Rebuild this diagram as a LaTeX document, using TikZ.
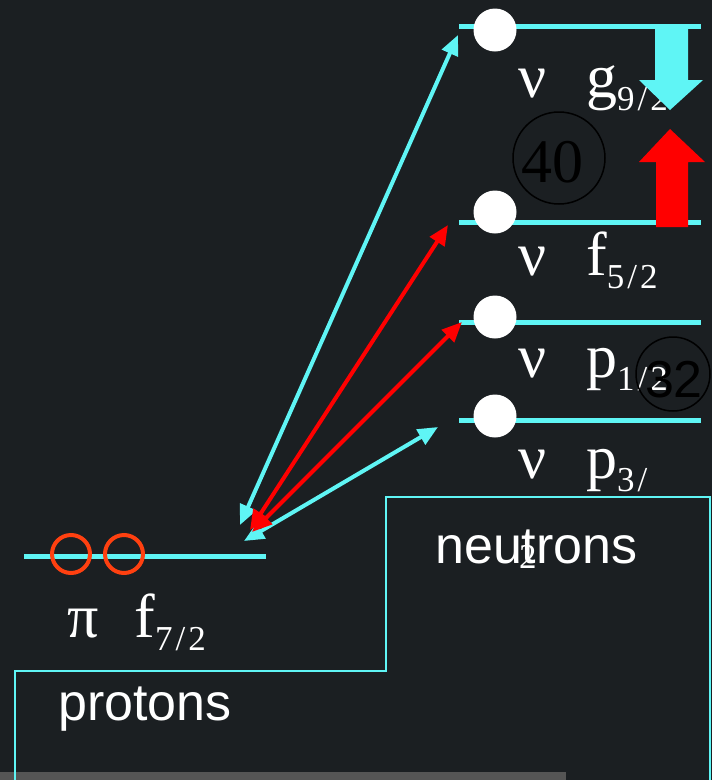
\documentclass[tikz,border=0pt]{standalone}
\usepackage{fontspec}
\setmainfont{Liberation Serif}
\newfontfamily\arialf{Liberation Sans}
\usetikzlibrary{arrows.meta}
\definecolor{bgc}{RGB}{27,31,34}
\definecolor{cyanl}{RGB}{95,245,245}
\definecolor{redl}{RGB}{255,0,0}
\definecolor{orangel}{RGB}{255,64,16}
\definecolor{greybar}{RGB}{85,85,85}
\newcommand\sublbl[2]{#1\raisebox{-13pt}{\fontsize{35}{35}\selectfont #2}}
\newcommand\slsh{\kern3pt/\kern3pt}
\newcommand\bigserif{\fontsize{62}{62}\selectfont}
\tikzset{
  level/.style={draw=cyanl, line width=5pt},
  occ/.style={circle, fill=white, minimum size=43pt, inner sep=0pt},
  hole/.style={circle, draw=orangel, line width=4pt, minimum size=38pt, inner sep=0pt},
  lbl/.style={anchor=base west, inner sep=0pt, text=white, font=\bigserif},
  sanslbl/.style={anchor=base west, inner sep=0pt, text=white, font=\arialf\fontsize{52}{52}\selectfont},
  cyanarr/.style={draw=cyanl, line width=4pt, {Triangle[length=20pt,width=17pt]}-{Triangle[length=20pt,width=17pt]}},
  redarr/.style={draw=redl, line width=4pt, {Triangle[length=20pt,width=17pt]}-{Triangle[length=20pt,width=17pt]}},
  boxline/.style={draw=cyanl, line width=2pt},
  magic/.style={circle, draw=black, line width=1.5pt, inner sep=0pt},
}
\begin{document}
\begin{tikzpicture}[x=1pt,y=-1pt]
\path[use as bounding box, fill=bgc] (0,0) rectangle (712,780);
\fill[greybar] (0,772) rectangle (566,780);
% outline of boxes
\draw[boxline] (15,782) -- (15,671) -- (386,671) -- (386,497) -- (710,497) -- (710,782);
% neutron levels
\draw[level] (459,26) coordinate (g0) -- (701,26) coordinate (g1);
\draw[level] (459,222) coordinate (f0) -- (701,222) coordinate (f1);
\draw[level] (459,322) coordinate (p0) -- (701,322) coordinate (p1);
\draw[level] (459,420) coordinate (q0) -- (701,420) coordinate (q1);
% proton level
\draw[level] (24,556) coordinate (pr0) -- (266,556) coordinate (pr1);
% occupied neutrons
\node[occ] (ng) at (495,30) {};
\node[occ] (nf) at (495,212) {};
\node[occ] (np) at (495,317) {};
\node[occ] (nq) at (495,416) {};
% proton holes
\node[hole] (h1) at (71,554) {};
\node[hole] (h2) at (124,554) {};
% labels
\node[lbl] (lg) at (518,97) {ν\hspace{40pt}\sublbl{g}{9\slsh2}};
\node[lbl] (lf) at (518,275) {ν\hspace{40pt}\sublbl{f}{5\slsh2}};
\node[lbl] (lp) at (518,377) {ν\hspace{40pt}\sublbl{p}{1\slsh2}};
\node[lbl] (lq) at (518,478) {ν\hspace{40pt}\sublbl{p}{3\slsh}};
\node[lbl, font=\fontsize{35}{35}\selectfont] (lq2) at (519,568) {2};
\node[lbl] (lpi) at (67,637) {π\hspace{36pt}\sublbl{f}{7\slsh2}};
\node[sanslbl] (neu) at (435,563) {neutrons};
\node[sanslbl] (pro) at (58,720) {protons};
% magic numbers
\node[magic, minimum size=92pt] (m40) at (559,158) {};
\node[anchor=base, inner sep=0pt, text=black, font=\bigserif] (t40) at (552,182) {40};
\node[magic, minimum size=74pt] (m32) at (673,374) {};
\node[anchor=base, inner sep=0pt, text=black, font=\arialf\fontsize{52}{52}\selectfont] (t32) at (674,397) {32};
% transition arrows
\coordinate (bA) at (240,525);
\coordinate (tA) at (458,35);
\coordinate (bB) at (250,530);
\coordinate (tB) at (448,225);
\coordinate (bC) at (252,532);
\coordinate (tC) at (462,322);
\coordinate (bD) at (244,541);
\coordinate (tD) at (438,427);
\draw[cyanarr] (bA) -- (tA);
\draw[cyanarr] (bD) -- (tD);
\draw[redarr] (bB) -- (tB);
\draw[redarr] (bC) -- (tC);
% big arrows
\fill[cyanl] (655,24) -- (688,24) -- (688,80) -- (703,80) -- (670,110) -- (639,80) -- (655,80) -- cycle;
\fill[redl] (656,227) -- (688,227) -- (688,162) -- (705,162) -- (670,129) -- (639,162) -- (656,162) -- cycle;
\end{tikzpicture}
\end{document}
